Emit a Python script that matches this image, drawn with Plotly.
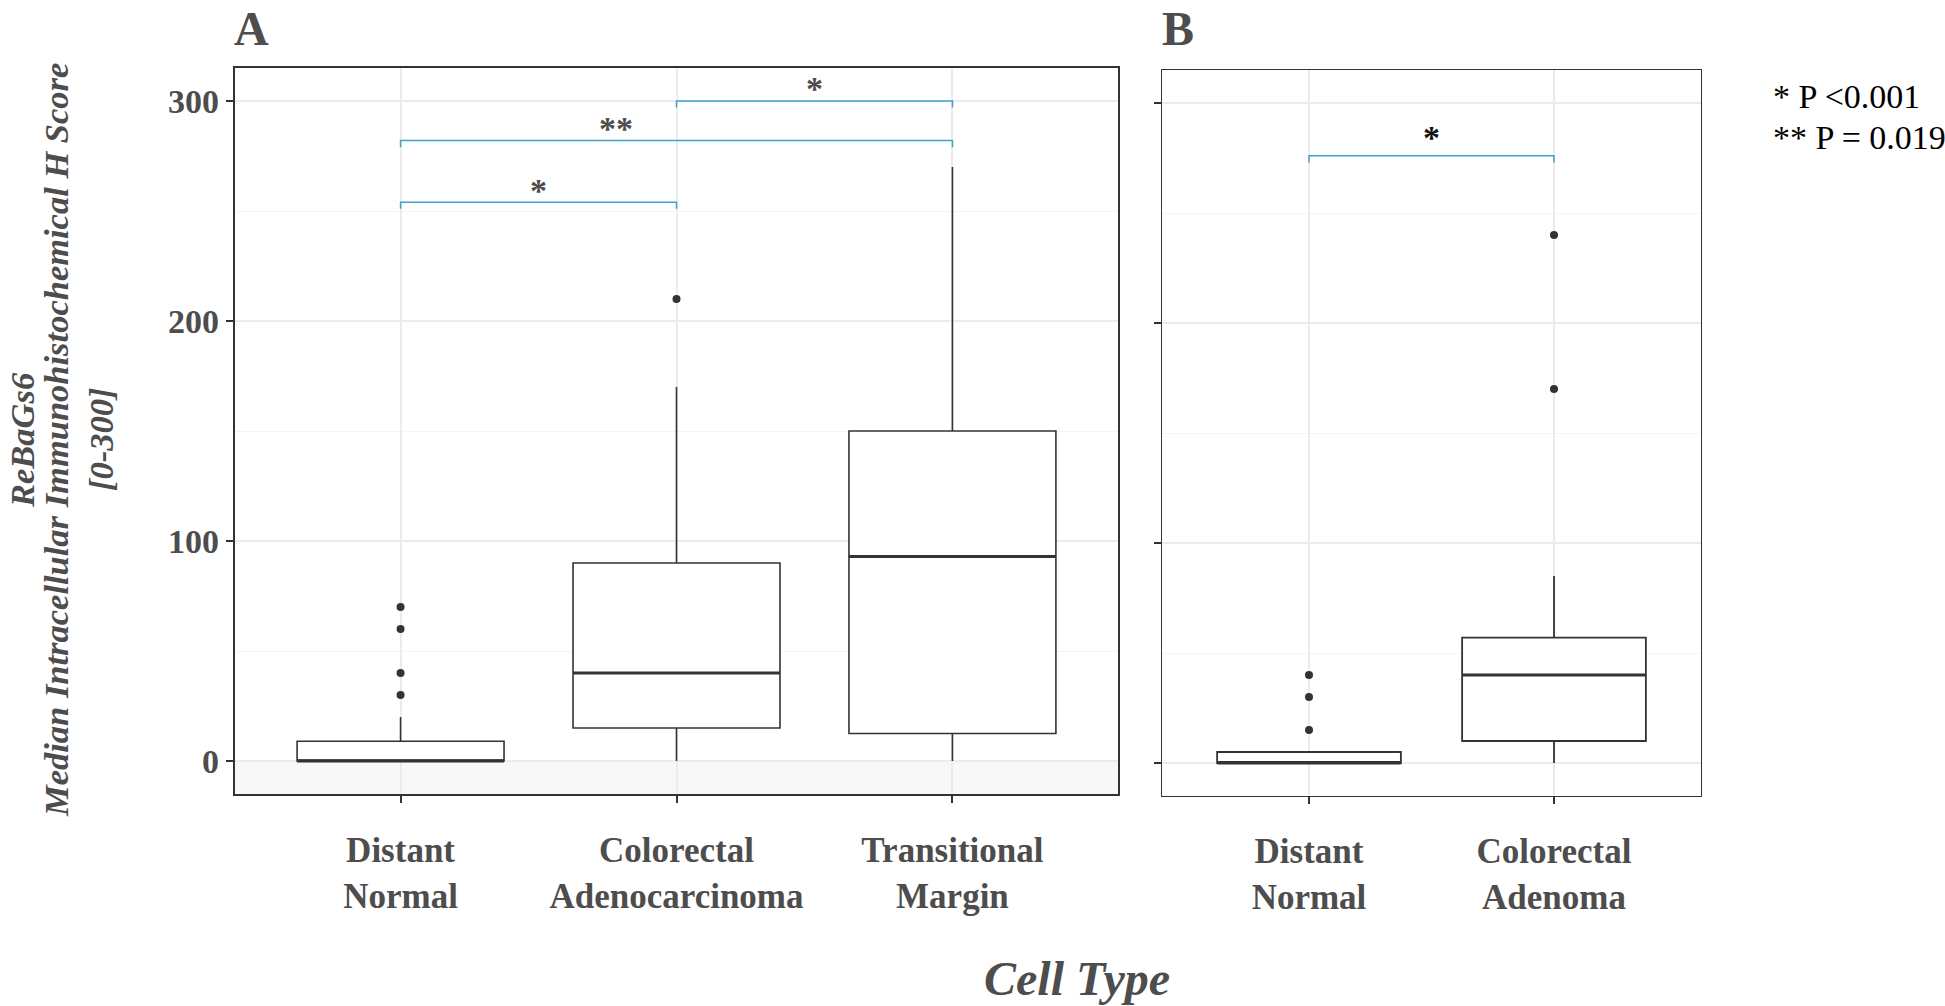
import plotly.graph_objects as go

# ---------------- data ----------------
cats_a = ["Distant<br>Normal", "Colorectal<br>Adenocarcinoma", "Transitional<br>Margin"]
lower_a = [0, 0, 0]
q1_a = [0, 15, 12.5]
median_a = [0, 40, 93]
q3_a = [9, 90, 150]
upper_a = [20, 170, 270]
outliers_a = [[70, 60, 40, 30], [210], []]

cats_b = ["Distant<br>Normal", "Colorectal<br>Adenoma"]
lower_b = [0, 0]
q1_b = [0, 10]
median_b = [0, 40]
q3_b = [5, 57]
upper_b = [5, 85]
outliers_b = [[40, 30, 15], [240, 170]]

y_ticks = [0, 100, 200, 300]

# significance brackets (group index 1-based)
br_a_left = [1, 1, 2]
br_a_right = [2, 3, 3]
br_a_y = [254, 282, 300]
br_a_label = ["*", "**", "*"]
br_a_label_x = [1.5, 1.78, 2.5]

br_b_left = [1]
br_b_right = [2]
br_b_y = [276]
br_b_label = ["*"]
br_b_label_x = [1.5]

y_title_lines = ["ReBaGs6", "Median Intracellular Immunohistochemical H Score", "[0-300]"]
legend_lines = ["* P <0.001", "** P = 0.019"]

# ---------------- style ----------------
W, H = 1945, 1006
FONT = "Liberation Serif"
GREY = "#4d4d4d"
DARK = "#333333"
BRACKET = "#3fa3c9"
GRID = "#ebebeb"


def px(x):
    return x / W


def py(y):
    return 1 - y / H


fig = go.Figure()


def add_panel(xa, ya, lower, q1, med, q3, upper, outs, box_lw, med_lw):
    xs = list(range(1, len(q1) + 1))
    fig.add_trace(go.Box(
        x=xs, q1=q1, median=med, q3=q3, lowerfence=lower, upperfence=upper,
        width=0.75, whiskerwidth=0, boxpoints=False,
        fillcolor="white", line=dict(color=DARK, width=box_lw),
        xaxis=xa, yaxis=ya, showlegend=False, hoverinfo="skip"))
    for i, m in zip(xs, med):
        fig.add_trace(go.Scatter(
            x=[i - 0.375, i + 0.375], y=[m, m], mode="lines",
            line=dict(color=DARK, width=med_lw),
            xaxis=xa, yaxis=ya, showlegend=False, hoverinfo="skip"))
    ox, oy = [], []
    for i, vals in zip(xs, outs):
        for v in vals:
            ox.append(i)
            oy.append(v)
    fig.add_trace(go.Scatter(
        x=ox, y=oy, mode="markers",
        marker=dict(color=DARK, size=8),
        xaxis=xa, yaxis=ya, showlegend=False, hoverinfo="skip"))


def add_brackets(xa, ya, lefts, rights, ys, labels, label_xs, label_color, label_dy):
    for l, r, yv, lab, lx in zip(lefts, rights, ys, labels, label_xs):
        fig.add_trace(go.Scatter(
            x=[l, l, r, r], y=[yv - 3, yv, yv, yv - 3], mode="lines",
            line=dict(color=BRACKET, width=1.5),
            xaxis=xa, yaxis=ya, showlegend=False, hoverinfo="skip"))
        fig.add_annotation(
            x=lx, y=yv + label_dy, xref=xa, yref=ya, text=lab, showarrow=False,
            font=dict(family=FONT, size=34, color=label_color, weight="bold"),
            yanchor="middle")


add_panel("x", "y", lower_a, q1_a, median_a, q3_a, upper_a, outliers_a, 1.6, 3)
add_panel("x2", "y2", lower_b, q1_b, median_b, q3_b, upper_b, outliers_b, 1.8, 3)
add_brackets("x", "y", br_a_left, br_a_right, br_a_y, br_a_label, br_a_label_x, GREY, 5.5)
add_brackets("x2", "y2", br_b_left, br_b_right, br_b_y, br_b_label, br_b_label_x, "#111111", 8.5)

tickfont = dict(family=FONT, size=34, color=GREY, weight="bold")

common_x = dict(showgrid=True, gridcolor=GRID, gridwidth=1.5, zeroline=False,
                ticks="outside", ticklen=7, tickcolor=DARK, tickwidth=1.5,
                tickfont=dict(tickfont, size=35), ticklabelstandoff=17, mirror=True,
                showline=True, linecolor=DARK)
common_y = dict(range=[-15, 315], showgrid=True, gridcolor=GRID, gridwidth=1.5,
                zeroline=False, ticks="outside", ticklen=7, tickcolor=DARK,
                tickwidth=1.5, tickmode="array", tickvals=y_ticks,
                minor=dict(dtick=50, tick0=0, showgrid=True, gridcolor="#f4f4f4",
                           gridwidth=1, ticks=""),
                mirror=True, showline=True, linecolor=DARK)

fig.update_layout(
    width=W, height=H, margin=dict(l=0, r=0, t=0, b=0),
    paper_bgcolor="white", plot_bgcolor="white",
    xaxis=dict(common_x, domain=[px(235), px(1118)], range=[0.4, 3.6],
               tickmode="array", tickvals=[1, 2, 3], ticktext=cats_a, linewidth=2.2),
    yaxis=dict(common_y, domain=[py(794), py(68)], tickfont=tickfont,
               linewidth=2.2),
    xaxis2=dict(common_x, domain=[px(1162), px(1701)], range=[0.4, 2.6],
                tickmode="array", tickvals=[1, 2], ticktext=cats_b, linewidth=1.2,
                anchor="y2"),
    yaxis2=dict(common_y, domain=[py(796), py(70)], showticklabels=False,
                linewidth=1.2, anchor="x2"),
)

# faint shaded band under zero in panel A
fig.add_shape(type="rect", xref="x domain", yref="y", x0=0, x1=1, y0=-15, y1=0,
              fillcolor="#f8f8f8", line=dict(width=0), layer="below")

# panel letters
fig.add_annotation(x=px(252), y=py(28), xref="paper", yref="paper", text="A",
                   showarrow=False, xanchor="center", yanchor="middle",
                   font=dict(family=FONT, size=48, color=GREY, weight="bold"))
fig.add_annotation(x=px(1178), y=py(28), xref="paper", yref="paper", text="B",
                   showarrow=False, xanchor="center", yanchor="middle",
                   font=dict(family=FONT, size=48, color=GREY, weight="bold"))

# y-axis title (three rotated lines)
for line, xc in zip(y_title_lines, [22, 56, 101]):
    fig.add_annotation(x=px(xc), y=py(440), xref="paper", yref="paper",
                       text=line, textangle=-90, showarrow=False,
                       xanchor="center", yanchor="middle",
                       font=dict(family=FONT, size=34.5, color=GREY, weight="bold",
                                 style="italic"))

# x-axis title
fig.add_annotation(x=px(1077), y=py(978), xref="paper", yref="paper",
                   text="Cell Type", showarrow=False, xanchor="center", yanchor="middle",
                   font=dict(family=FONT, size=48, color=GREY, weight="bold", style="italic"))

# p-value legend
for k, line in enumerate(legend_lines):
    fig.add_annotation(x=px(1771), y=py(96 + 42 * k), xref="paper", yref="paper",
                       text=line, showarrow=False, xanchor="left", yanchor="middle",
                       font=dict(family=FONT, size=34, color="black"))

fig.write_html("out.html", config={"displayModeBar": False},
               post_script="document.body.style.margin='0';document.body.style.overflow='hidden';")
